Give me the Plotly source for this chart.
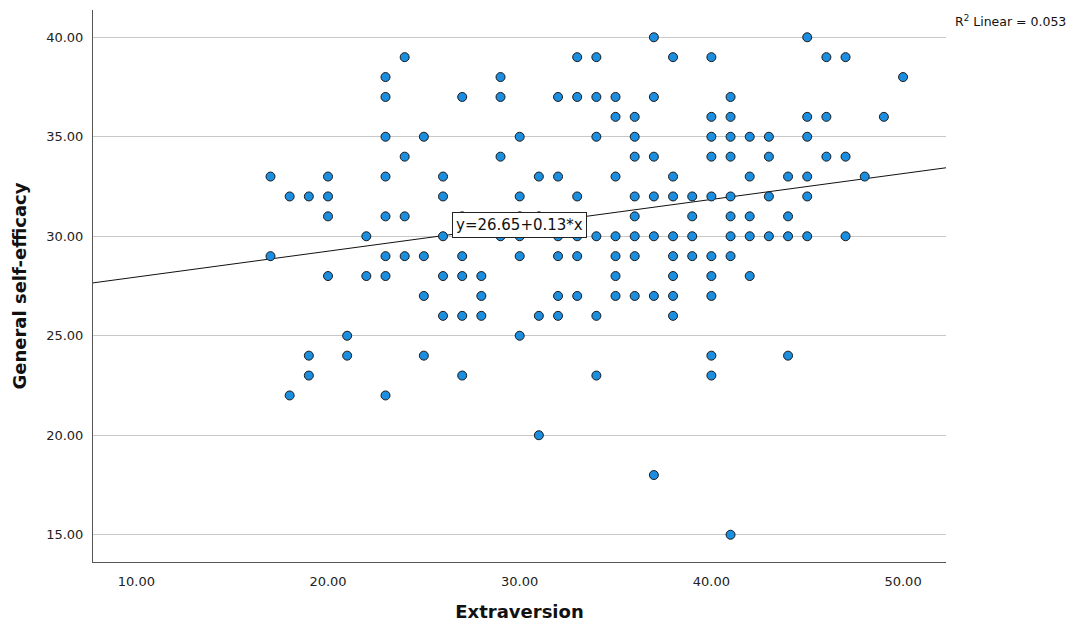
import plotly.graph_objects as go

# Extraversion values grouped by General self-efficacy score
gse_levels = [40, 39, 38, 37, 36, 35, 34, 33, 32, 31, 30, 29, 28, 27, 26, 25, 24, 23, 22, 20, 18, 15]
extraversion_by_level = [
    [37, 45],
    [24, 33, 34, 38, 40, 46, 47],
    [23, 29, 50],
    [23, 27, 29, 32, 33, 34, 35, 37, 41],
    [35, 36, 40, 41, 45, 46, 49],
    [23, 25, 30, 34, 36, 40, 41, 42, 43, 45],
    [24, 29, 36, 37, 40, 41, 43, 46, 47],
    [17, 20, 23, 26, 31, 32, 35, 38, 42, 44, 45, 48],
    [18, 19, 20, 26, 30, 33, 36, 37, 38, 39, 40, 41, 43, 45],
    [20, 23, 24, 27, 30, 31, 36, 39, 41, 42, 44],
    [22, 26, 29, 30, 32, 33, 34, 35, 36, 37, 38, 39, 41, 42, 43, 44, 45, 47],
    [17, 23, 24, 25, 27, 30, 32, 33, 35, 36, 38, 39, 40, 41],
    [20, 22, 23, 26, 27, 28, 35, 38, 40, 42],
    [25, 28, 32, 33, 35, 36, 37, 38, 40],
    [26, 27, 28, 31, 32, 34, 38],
    [21, 30],
    [19, 21, 25, 40, 44],
    [19, 27, 34, 40],
    [18, 23],
    [31],
    [37],
    [41],
]

intercept = 26.65
slope = 0.13
r_squared = 0.053

x_range = [7.74, 52.24]
y_range = [13.63, 41.37]
x_ticks = [10, 20, 30, 40, 50]
y_ticks = [15, 20, 25, 30, 35, 40]

xs, ys = [], []
for lvl, vals in zip(gse_levels, extraversion_by_level):
    for v in vals:
        xs.append(v)
        ys.append(lvl)

fig = go.Figure()

fig.add_trace(go.Scatter(
    x=x_range,
    y=[intercept + slope * x for x in x_range],
    mode="lines",
    line=dict(color="#111111", width=1),
    hoverinfo="skip",
    showlegend=False,
))

fig.add_trace(go.Scatter(
    x=xs, y=ys, mode="markers",
    marker=dict(size=9, color="#1c8ee0", line=dict(color="#1a1a1a", width=1)),
    showlegend=False,
))

font_family = "DejaVu Sans"

fig.add_annotation(
    x=30.0, y=30.57, xref="x", yref="y",
    text=f"y={intercept:.2f}+{slope:.2f}*x",
    showarrow=False,
    font=dict(family=font_family, size=15, color="#111111"),
    bgcolor="white", bordercolor="#222222", borderwidth=1, borderpad=3,
)

fig.add_annotation(
    x=(1068 - 93) / (946 - 93), y=(562 - 21) / (562 - 10),
    xref="paper", yref="paper",
    text=f"R<sup>2</sup> Linear = {r_squared:.3f}",
    showarrow=False, xanchor="right", yanchor="middle",
    font=dict(family=font_family, size=12.5, color="#111111"),
)

fig.update_layout(
    width=1070, height=622,
    margin=dict(l=93, r=124, t=10, b=60),
    paper_bgcolor="white", plot_bgcolor="white",
    font=dict(family=font_family, color="#222222"),
    xaxis=dict(
        range=x_range, tickvals=x_ticks,
        ticktext=[f"{v:.2f}" for v in x_ticks],
        showgrid=False, zeroline=False, automargin=False,
        showline=True, linecolor="#555555", linewidth=1,
        ticks="outside", ticklen=7, tickcolor="rgba(0,0,0,0)",
        tickfont=dict(size=13, color="#222222"),
        title=dict(text="<b>Extraversion</b>", font=dict(size=18, color="#111111"), standoff=18),
    ),
    yaxis=dict(
        range=y_range, tickvals=y_ticks,
        ticktext=[f"{v:.2f}" for v in y_ticks],
        showgrid=True, gridcolor="#c8c8c8", gridwidth=1,
        zeroline=False, automargin=False,
        showline=True, linecolor="#555555", linewidth=1,
        ticks="outside", ticklen=6, tickcolor="rgba(0,0,0,0)",
        tickfont=dict(size=13, color="#222222"),
        title=dict(text="<b>General self-efficacy</b>", font=dict(size=18, color="#111111"), standoff=14),
    ),
)

fig.write_html("out.html")
